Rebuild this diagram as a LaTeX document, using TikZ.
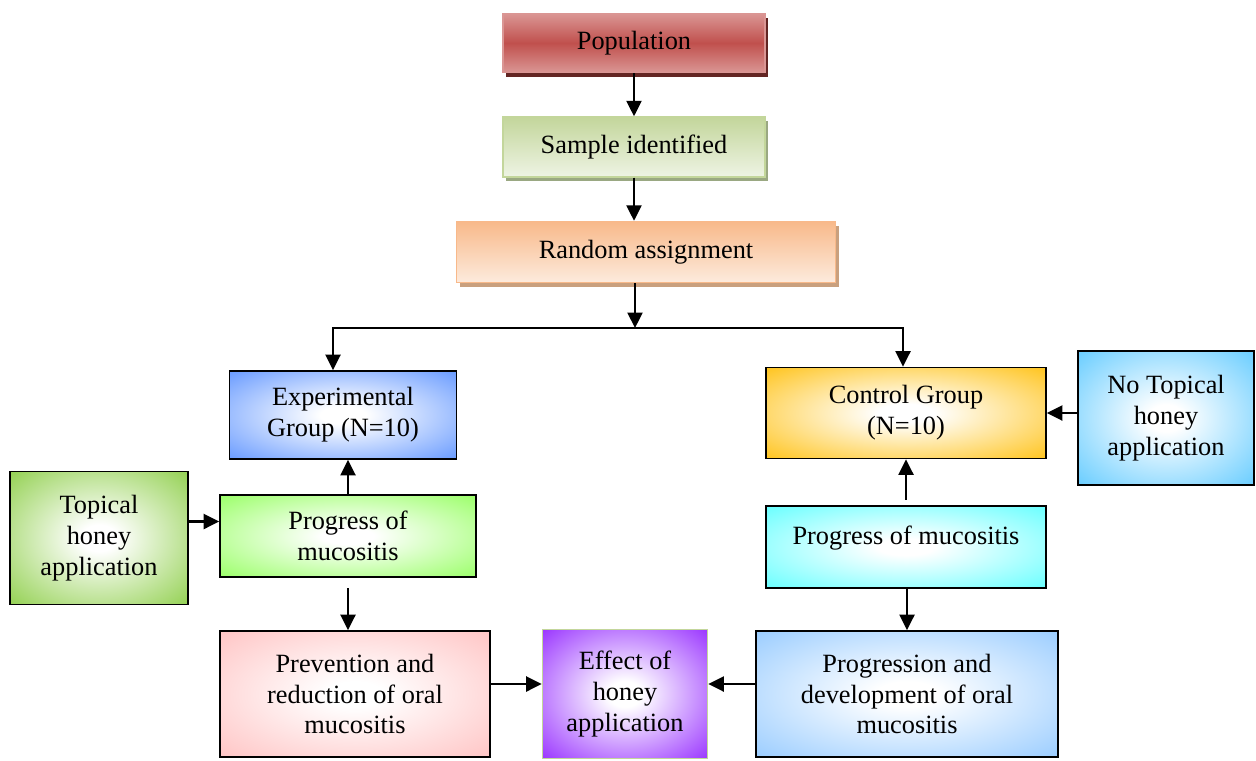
\documentclass[tikz,border=0pt]{standalone}
\usepackage{fontspec}
\setmainfont{Liberation Serif}
\usepackage{xcolor}
\definecolor{popred}{HTML}{C0504D}
\definecolor{poplight}{HTML}{DA9694}
\definecolor{popshadow}{HTML}{632523}
\definecolor{samplegreen}{HTML}{C3D69B}
\definecolor{samplelight}{HTML}{EEF4E4}
\definecolor{sampleshadow}{HTML}{9AA882}
\definecolor{randorange}{HTML}{F8B98A}
\definecolor{randlight}{HTML}{FDEBDD}
\definecolor{randshadow}{HTML}{C9A07E}
\definecolor{expblue}{HTML}{6699FF}
\definecolor{ctrlgold}{HTML}{FFC31A}
\definecolor{noblue}{HTML}{66CCFF}
\definecolor{topgreen}{HTML}{92D050}
\definecolor{proglime}{HTML}{99FF66}
\definecolor{progcyan}{HTML}{66FFFF}
\definecolor{prevpink}{HTML}{FFC4C4}
\definecolor{effpurple}{HTML}{9933FF}
\definecolor{effborder}{HTML}{C3D69B}
\definecolor{devblue}{HTML}{99CCFF}
\usepackage{tikz}
\usetikzlibrary{positioning,arrows.meta,shadows}
\makeatletter
\pgfdeclareradialshading[tikz@radial@inner,tikz@radial@outer]{glow}{\pgfpoint{0bp}{0bp}}{%
  color(0bp)=(tikz@radial@inner); color(5bp)=(tikz@radial@inner);
  color(36bp)=(tikz@radial@outer); color(100bp)=(tikz@radial@outer)}
\makeatother
\tikzset{
  fbox/.style  ={rectangle, draw=black, line width=1pt, align=center, inner sep=2pt,
                 font=\fontsize{15}{17.5}\selectfont},
  gbox/.style  ={fbox, inner color=white, outer color=#1, shading=glow},
  topbox/.style={fbox, line width=0.8pt, minimum width=5.24cm},
  arr/.style   ={-{Triangle[length=3.1mm,width=3mm]}, line width=1.3pt},
}

\begin{document}
\begin{tikzpicture}[x=0.02cm, y=-0.02cm]
  \useasboundingbox (0,0) rectangle (1256,760);
  % top chain
  \node[topbox, minimum height=1.18cm, draw=poplight, top color=poplight, bottom color=poplight, middle color=popred,
        drop shadow={shadow xshift=1.8pt, shadow yshift=-2.5pt, fill=popshadow, opacity=1}] (pop) at (634,43) {Population};
  \node[topbox, minimum height=1.2cm, draw=samplegreen, top color=samplegreen, bottom color=samplelight,
        drop shadow={shadow xshift=1.8pt, shadow yshift=-2.5pt, fill=sampleshadow, opacity=1}] (sample) at (634,147) {Sample identified};
  \node[topbox, minimum width=7.58cm, minimum height=1.22cm, draw=randorange, top color=randorange, bottom color=randlight,
        drop shadow={shadow xshift=1.8pt, shadow yshift=-2.5pt, fill=randshadow, opacity=1}] (random) at (646,252) {Random assignment};
  % groups
  \node[gbox=expblue, minimum width=4.54cm, minimum height=1.76cm] (exp) at (343,415) {Experimental\\Group (N=10)};
  \node[gbox=ctrlgold, minimum width=5.6cm, minimum height=1.82cm] (ctrl) at (906,413) {Control Group\\(N=10)};
  \node[gbox=noblue, minimum width=3.52cm, minimum height=2.68cm] (notop) at (1166,418) {No Topical\\honey\\application};
  \node[gbox=topgreen, minimum width=3.56cm, minimum height=2.66cm] (topical) at (99,538) {Topical\\honey\\application};
  \node[gbox=proglime, minimum width=5.12cm, minimum height=1.64cm] (progL) at (348,536) {Progress of\\mucositis};
  \node[gbox=progcyan, minimum width=5.6cm, minimum height=1.64cm] (progR) at (906,547) {Progress of mucositis\\[-4pt]\mbox{}};
  % outcomes
  \node[gbox=prevpink, minimum width=5.4cm, minimum height=2.52cm] (prev) at (355,694) {Prevention and\\reduction of oral\\mucositis};
  \node[gbox=effpurple, draw=effborder, minimum width=3.3cm, minimum height=2.58cm] (effect) at (625,694) {Effect of\\honey\\application};
  \node[gbox=devblue, minimum width=6.04cm, minimum height=2.52cm] (progn) at (907,694) {Progression and\\development of oral\\mucositis};
  % connectors
  \coordinate (split) at (635,328);
  \coordinate (brL) at (333,328);
  \coordinate (brR) at (903,328);
  \draw[arr] (pop) -- (sample);
  \draw[arr] (sample) -- (sample |- random.north);
  \draw[arr] (random.south -| split) -- (split);
  \draw[arr] (split) -| (exp.north -| brL);
  \draw[arr] (split) -| (ctrl.north -| brR);
  \draw[arr] ([yshift=0.33cm]topical.east) -- ([yshift=0.33cm]topical.east -| progL.west);
  \draw[arr] (progL.north) -- (progL.north |- exp.south);
  \draw[arr, shorten <=3pt] (progR.north) -- (ctrl.south);
  \draw[arr] (notop.west |- ctrl.east) -- (ctrl.east);
  \draw[arr, shorten <=6pt] (progL.south) -- (progL.south |- prev.north);
  \draw[arr] (progn.north |- progR.south) -- (progn.north);
  \draw[arr] ([yshift=0.2cm]prev.east) -- ([yshift=0.2cm]prev.east -| effect.west);
  \draw[arr] ([yshift=0.2cm]progn.west) -- ([yshift=0.2cm]progn.west -| effect.east);
\end{tikzpicture}
\end{document}
